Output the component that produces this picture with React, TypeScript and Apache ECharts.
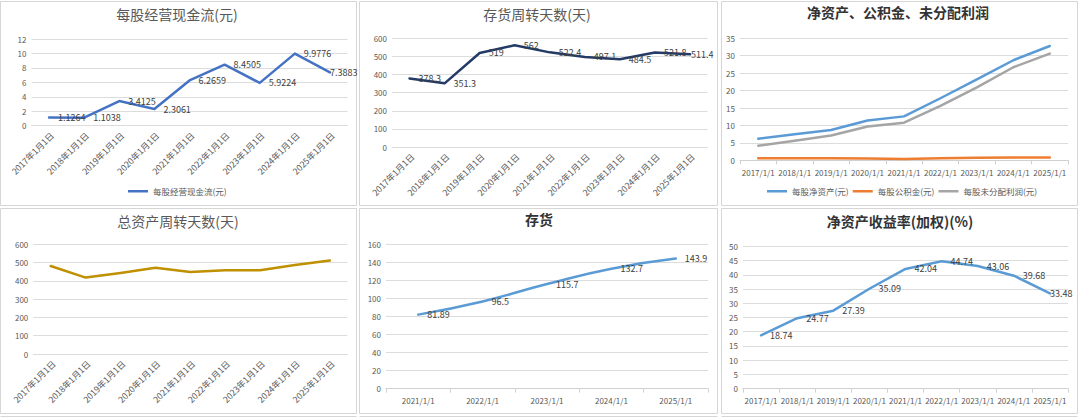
import React, { useEffect, useRef } from "react";
import * as echarts from "echarts";

const FONT = '"Noto Sans CJK SC", "Noto Sans", sans-serif';

// ---- categories ----
const catsCn9 = [
  "2017年1月1日", "2018年1月1日", "2019年1月1日", "2020年1月1日", "2021年1月1日",
  "2022年1月1日", "2023年1月1日", "2024年1月1日", "2025年1月1日",
];
const catsSlash9 = [
  "2017/1/1", "2018/1/1", "2019/1/1", "2020/1/1", "2021/1/1",
  "2022/1/1", "2023/1/1", "2024/1/1", "2025/1/1",
];
const catsSlash5 = ["2021/1/1", "2022/1/1", "2023/1/1", "2024/1/1", "2025/1/1"];

// ---- series values ----
const cashFlowPS = [1.1264, 1.1038, 3.4125, 2.3061, 6.2659, 8.4505, 5.9224, 9.9776, 7.3883];
const inventoryDays = [378.3, 351.3, 519, 562, 522.4, 497.1, 484.5, 521.8, 511.4];
const netAssetPS = [6.2, 7.5, 8.7, 11.4, 12.6, 17.8, 23.2, 28.7, 32.8];
const reservePS = [0.6, 0.6, 0.6, 0.5, 0.4, 0.6, 0.7, 0.8, 0.8];
const undistProfitPS = [4.2, 5.6, 7.1, 9.7, 10.8, 15.6, 20.9, 26.7, 30.6];
const totalAssetDays = [481, 418, 443, 472, 449, 458, 458, 487, 511];
const inventory = [81.89, 96.5, 115.7, 132.7, 143.9];
const roeWeighted = [18.74, 24.77, 27.39, 35.09, 42.04, 44.74, 43.06, 39.68, 33.48];

// ---- titles ----
const titles = [
  "每股经营现金流(元)", "存货周转天数(天)", "净资产、公积金、未分配利润",
  "总资产周转天数(天)", "存货", "净资产收益率(加权)(%)",
];
const legendP1 = ["每股经营现金流(元)"];
const legendP3 = ["每股净资产(元)", "每股公积金(元)", "每股未分配利润(元)"];

const GRID_COLOR = "#dcdcdc";
const AXIS_TEXT = "#595959";
const LABEL_TEXT = "#404040";

function withLastLabel(values: number[], dist: number) {
  return values.map((v, i) =>
    i === values.length - 1 ? { value: v, label: { distance: dist } } : v
  );
}

function buildOption() {
  const grids = [
    { left: 31.5, top: 39, width: 316, height: 86.7 },
    { left: 392, top: 38.3, width: 315.5, height: 108.7 },
    { left: 740, top: 38.3, width: 328, height: 122 },
    { left: 33.3, top: 244.3, width: 314, height: 109.7 },
    { left: 386, top: 244, width: 322, height: 144.7 },
    { left: 743, top: 246.3, width: 325, height: 142.4 },
  ].map((g) => ({ ...g, containLabel: false, outerBoundsMode: "none" }));

  const rotX = (gi: number) => ({
    type: "category",
    gridIndex: gi,
    data: catsCn9,
    boundaryGap: true,
    axisLine: { show: true, lineStyle: { color: GRID_COLOR, width: 1 } },
    axisTick: { show: false },
    axisLabel: {
      interval: 0,
      rotate: 45,
      fontSize: 8.7,
      color: AXIS_TEXT,
      fontFamily: FONT,
      margin: 5,
      verticalAlign: "top",
    },
  });
  const flatX = (gi: number, data: string[]) => ({
    type: "category",
    gridIndex: gi,
    data,
    boundaryGap: true,
    axisLine: { show: true, lineStyle: { color: "#d0d0d0", width: 1 } },
    axisTick: { show: true, length: 4, lineStyle: { color: "#d0d0d0" } },
    axisLabel: { interval: 0, fontSize: 8, color: AXIS_TEXT, fontFamily: FONT, margin: 8 },
  });
  const yAx = (gi: number, max: number, interval: number) => ({
    type: "value",
    gridIndex: gi,
    min: 0,
    max,
    interval,
    axisLine: { show: false },
    axisTick: { show: false },
    splitLine: { show: true, lineStyle: { color: GRID_COLOR, width: 1 } },
    axisLabel: { fontSize: 8, color: AXIS_TEXT, fontFamily: FONT, margin: 5 },
  });

  const dataLabel = {
    show: true,
    position: "right",
    distance: 9,
    fontSize: 9,
    color: LABEL_TEXT,
    fontFamily: FONT,
  };

  const lineSeries = (
    name: string,
    idx: number,
    data: any[],
    color: string,
    withLabel: boolean,
    smooth = false
  ) => ({
    type: "line",
    name,
    xAxisIndex: idx,
    yAxisIndex: idx,
    data,
    smooth,
    symbol: withLabel ? "circle" : "none",
    symbolSize: 0,
    showSymbol: withLabel,
    lineStyle: { color, width: 2.5, cap: "round", join: "round" },
    itemStyle: { color },
    label: withLabel ? dataLabel : { show: false },
    labelLayout: { hideOverlap: false },
    emphasis: { disabled: true },
    z: 3,
  });

  const titleCenters = [
    [177, 17, false], [537, 17, false], [898, 15, true],
    [178, 224, false], [539, 222, true], [900, 224, true],
  ] as const;

  const panels = [
    [0.5, 1.5, 356, 204], [359.5, 1.5, 358, 204], [721.5, 1.5, 356, 204],
    [0.5, 208.5, 356, 205], [359.5, 208.5, 358, 205], [721.5, 208.5, 356, 205],
  ];

  const legendCommon = {
    icon: "rect",
    itemWidth: 20,
    itemHeight: 2.5,
    itemGap: 4,
    padding: 0,
    textStyle: { fontSize: 8.5, color: AXIS_TEXT, fontFamily: FONT },
  };

  return {
    animation: false,
    backgroundColor: "#ffffff",
    textStyle: { fontFamily: FONT },
    title: titles.map((t, i) => ({
      text: t,
      left: titleCenters[i][0],
      top: titleCenters[i][1] - 10,
      textAlign: "center",
      padding: 0,
      textStyle: {
        fontFamily: FONT,
        fontSize: 14,
        fontWeight: titleCenters[i][2] ? "bold" : "normal",
        color: titleCenters[i][2] ? "#333333" : "#595959",
      },
    })),
    legend: [
      { ...legendCommon, data: legendP1, left: 128, top: 187 },
      { ...legendCommon, data: legendP3, left: 767, top: 187 },
    ],
    grid: grids,
    xAxis: [
      rotX(0),
      rotX(1),
      flatX(2, catsSlash9),
      rotX(3),
      flatX(4, catsSlash5),
      flatX(5, catsSlash9),
    ],
    yAxis: [yAx(0, 12, 2), yAx(1, 600, 100), yAx(2, 35, 5), yAx(3, 600, 100), yAx(4, 160, 20), yAx(5, 50, 5)],
    series: [
      lineSeries("每股经营现金流(元)", 0, withLastLabel(cashFlowPS, 0), "#4472C4", true),
      lineSeries("存货周转天数(天)", 1, withLastLabel(inventoryDays, 1), "#233B66", true),
      lineSeries("每股净资产(元)", 2, netAssetPS, "#5B9BD5", false),
      lineSeries("每股公积金(元)", 2, reservePS, "#ED7D31", false),
      lineSeries("每股未分配利润(元)", 2, undistProfitPS, "#A5A5A5", false),
      lineSeries("总资产周转天数(天)", 3, totalAssetDays, "#BF9000", false),
      lineSeries("存货", 4, inventory, "#5B9BD5", true, true),
      lineSeries("净资产收益率(加权)(%)", 5, withLastLabel(roeWeighted, 0), "#5B9BD5", true),
    ],
    graphic: [
      ...panels.map((p) => ({
        type: "rect",
        silent: true,
        z: -10,
        shape: { x: p[0], y: p[1], width: p[2], height: p[3] },
        style: { fill: "none", stroke: "#d6d6d6", lineWidth: 1 },
      })),
      ...[
        [0.5, 356.5], [359.5, 717.5], [721.5, 1077.5],
      ].map((s) => ({
        type: "line",
        silent: true,
        z: -10,
        shape: { x1: s[0], y1: 416.5, x2: s[1], y2: 416.5 },
        style: { stroke: "#d6d6d6", lineWidth: 1 },
      })),
    ],
  };
}

export default function App() {
  const ref = useRef<HTMLDivElement | null>(null);
  useEffect(() => {
    if (!ref.current) return;
    const chart = echarts.init(ref.current, undefined, { renderer: "svg" });
    chart.setOption(buildOption() as any);
    return () => chart.dispose();
  }, []);
  return (
    <div
      ref={ref}
      style={{ position: "fixed", left: 0, top: 0, width: 1080, height: 417, background: "#fff" }}
    />
  );
}
